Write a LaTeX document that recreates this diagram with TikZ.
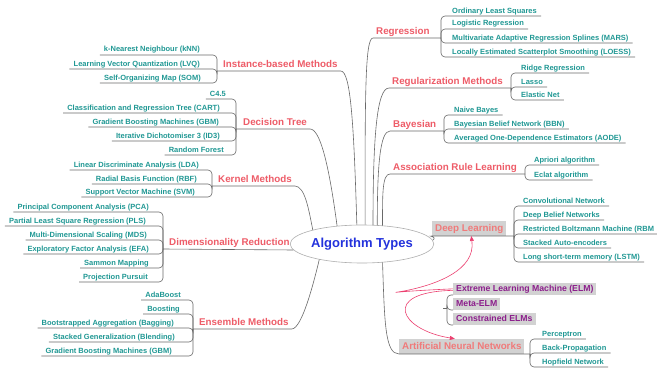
\documentclass[tikz,border=0pt]{standalone}
\usepackage{fontspec}
\setmainfont{Liberation Sans}
\usetikzlibrary{shapes.geometric,arrows.meta}
\definecolor{leafc}{RGB}{32,152,148}
\definecolor{catc}{RGB}{238,92,104}
\definecolor{catlc}{RGB}{240,122,122}
\definecolor{boxg}{RGB}{210,210,210}
\definecolor{elmc}{RGB}{140,30,140}
\definecolor{linec}{RGB}{105,105,105}
\definecolor{bluec}{RGB}{35,50,220}
\definecolor{relc}{RGB}{236,64,112}
\definecolor{ellc}{RGB}{175,175,175}
\begin{document}
\begin{tikzpicture}[x=1pt,y=-1pt,
  leaf/.style={font=\fontsize{7.5}{9}\selectfont\bfseries, text=leafc, inner xsep=4pt, inner ysep=1pt, text height=5.5pt, text depth=1.8pt},
  leafL/.style={leaf, anchor=south east},
  leafR/.style={leaf, anchor=south west},
  cat/.style={font=\fontsize{9.8}{12}\selectfont\bfseries, text=catc, inner xsep=3pt, inner ysep=1pt, text height=7.5pt, text depth=2.2pt, anchor=south west},
  catbox/.style={cat, fill=boxg, text=catlc, inner ysep=2.6pt},
  elmbox/.style={font=\fontsize{8.7}{10}\selectfont\bfseries, text=elmc, fill=boxg, inner xsep=3pt, inner ysep=1.7pt, text height=6.5pt, text depth=2pt, anchor=south west},
  conn/.style={draw=linec, line width=0.6pt},
  br/.style={conn, rounded corners=4pt},
  rel/.style={draw=relc, line width=0.6pt, -{Triangle[length=5pt,width=4pt]}, relc}
]
\useasboundingbox (0,0) rectangle (657,372);
\fill[white] (0,0) rectangle (657,372);

% centre
\node[ellipse, draw=ellc, line width=0.6pt, fill=white, minimum width=122pt, minimum height=38pt, inner sep=0pt,
      font=\fontsize{13}{15}\selectfont\bfseries, text=bluec] (E) at (362,244) {Algorithm Types};

% ---------------- Instance-based Methods
\coordinate (Jinst) at (217,71);
\node[cat] (inst) at (220,71) {Instance-based Methods};
\node[leafL] (knn) at (204,55) {k-Nearest Neighbour (kNN)};
\node[leafL] (lvq) at (204,69) {Learning Vector Quantization (LVQ)};
\node[leafL] (som) at (205,83) {Self-Organizing Map (SOM)};
\draw[br] (Jinst) |- (knn.south west);
\draw[br] (Jinst) |- (lvq.south west);
\draw[br] (Jinst) |- (som.south west);
\draw[conn] (Jinst) -- (inst.south east) .. controls +(10,0) and +(-3,-100) .. (E.105);

% ---------------- Decision Tree
\coordinate (Jdt) at (236,129);
\node[cat] (dt) at (240,129) {Decision Tree};
\node[leafL] (c45) at (230,99) {C4.5};
\node[leafL] (cart) at (224,113) {Classification and Regression Tree (CART)};
\node[leafL] (gbma) at (223,127) {Gradient Boosting Machines (GBM)};
\node[leafL] (id3) at (224,141) {Iterative Dichotomiser 3 (ID3)};
\node[leafL] (rf) at (228,155) {Random Forest};
\foreach \n in {c45,cart,gbma,id3,rf} \draw[br] (Jdt) |- (\n.south west);
\draw[conn] (Jdt) -- (dt.south east) .. controls +(12,0) and +(-6,-45) .. (E.144);

% ---------------- Kernel Methods
\coordinate (Jkm) at (212,186);
\node[cat] (km) at (215,186) {Kernel Methods};
\node[leafL] (lda) at (203,170) {Linear Discriminate Analysis (LDA)};
\node[leafL] (rbf) at (201,184) {Radial Basis Function (RBF)};
\node[leafL] (svm) at (199,197) {Support Vector Machine (SVM)};
\foreach \n in {lda,rbf,svm} \draw[br] (Jkm) |- (\n.south west);
\draw[conn] (Jkm) -- (km.south east) .. controls +(10,0) and +(-4,-20) .. (E.164);

% ---------------- Dimensionality Reduction
\coordinate (Jdim) at (163,249);
\node[cat] (dim) at (166,249) {Dimensionality Reduction};
\node[leafL] (pca) at (153,212) {Principal Component Analysis (PCA)};
\node[leafL] (pls) at (150,226) {Partial Least Square Regression (PLS)};
\node[leafL] (mds) at (151,240) {Multi-Dimensional Scaling (MDS)};
\node[leafL] (efa) at (153,254) {Exploratory Factor Analysis (EFA)};
\node[leafL] (sam) at (153,268) {Sammon Mapping};
\node[leafL] (pp) at (152,282) {Projection Pursuit};
\foreach \n in {pca,pls,mds,efa,sam,pp} \draw[br] (Jdim) |- (\n.south west);
\draw[conn] (Jdim) -- (E.185);

% ---------------- Ensemble Methods
\coordinate (Jens) at (193,329);
\node[cat] (ens) at (196,329) {Ensemble Methods};
\node[leafL] (ada) at (185,300) {AdaBoost};
\node[leafL] (boo) at (184,314) {Boosting};
\node[leafL] (bag) at (178,328) {Bootstrapped Aggregation (Bagging)};
\node[leafL] (sta) at (179,342) {Stacked Generalization (Blending)};
\node[leafL] (gbmb) at (176,356) {Gradient Boosting Machines (GBM)};
\foreach \n in {ada,boo,bag,sta,gbmb} \draw[br] (Jens) |- (\n.south west);
\draw[conn] (Jens) -- (ens.south east) .. controls +(10,0) and +(-6,25) .. (E.200);

% ---------------- Regression
\coordinate (Jreg) at (441,38);
\node[cat] (reg) at (373,38) {Regression};
\node[leafR] (ols) at (448,16) {Ordinary Least Squares};
\node[leafR] (logr) at (448,29) {Logistic Regression};
\node[leafR] (mars) at (448,43) {Multivariate Adaptive Regression Splines (MARS)};
\node[leafR] (loess) at (448,57) {Locally Estimated Scatterplot Smoothing (LOESS)};
\foreach \n in {ols,logr,mars,loess} \draw[br] (Jreg) |- (\n.south east);
\draw[conn] (E.81) .. controls +(0,-130) and +(-8,0) .. (reg.south west) -- (Jreg);

% ---------------- Regularization Methods
\coordinate (Jrgl) at (511,88);
\node[cat] (rgl) at (389,88) {Regularization Methods};
\node[leafR] (ridge) at (517,73) {Ridge Regression};
\node[leafR] (lasso) at (517,87) {Lasso};
\node[leafR] (enet) at (517,100) {Elastic Net};
\foreach \n in {ridge,lasso,enet} \draw[br] (Jrgl) |- (\n.south east);
\draw[conn] (E.60) .. controls +(0,-90) and +(-12,0) .. (rgl.south west) -- (Jrgl);

% ---------------- Bayesian
\coordinate (Jbay) at (444,131);
\node[cat] (bay) at (390,131) {Bayesian};
\node[leafR] (nb) at (450,115) {Naive Bayes};
\node[leafR] (bbn) at (450,129) {Bayesian Belief Network (BBN)};
\node[leafR] (aode) at (450,143) {Averaged One-Dependence Estimators (AODE)};
\foreach \n in {nb,bbn,aode} \draw[br] (Jbay) |- (\n.south east);
\draw[conn] (E.51) .. controls +(0,-60) and +(-10,0) .. (bay.south west) -- (Jbay);

% ---------------- Association Rule Learning
\coordinate (Jasr) at (525,174);
\node[cat] (asr) at (390,174) {Association Rule Learning};
\node[leafR] (apr) at (530,165) {Apriori algorithm};
\node[leafR] (ecl) at (530,180) {Eclat algorithm};
\foreach \n in {apr,ecl} \draw[br] (Jasr) |- (\n.south east);
\draw[conn] (E.42) .. controls +(0,-30) and +(-8,0) .. (asr.south west) -- (Jasr);

% ---------------- Deep Learning
\coordinate (Jdl) at (514,236);
\node[catbox] (dl) at (432,236) {Deep Learning};
\node[leafR] (conv) at (519,206) {Convolutional Network};
\node[leafR] (dbn) at (519,220) {Deep Belief Networks};
\node[leafR] (rbm) at (519,234) {Restricted Boltzmann Machine (RBM};
\node[leafR] (sae) at (519,248) {Stacked Auto-encoders};
\node[leafR] (lstm) at (519,262) {Long short-term memory (LSTM)};
\foreach \n in {conv,dbn,rbm,sae,lstm} \draw[br] (Jdl) |- (\n.south east);
\draw[conn] (E.3) .. controls +(5,-4) and +(-5,0) .. (dl.south west) -- (Jdl);

% ---------------- Artificial Neural Networks
\coordinate (Jann) at (530,354);
\node[catbox] (ann) at (399,354) {Artificial Neural Networks};
\node[leafR] (perc) at (538,339) {Perceptron};
\node[leafR] (bp) at (538,353) {Back-Propagation};
\node[leafR] (hop) at (538,367) {Hopfield Network};
\foreach \n in {perc,bp,hop} \draw[br] (Jann) |- (\n.south east);
\draw[conn] (E.318) .. controls +(2,60) and +(-14,0) .. (ann.south west) -- (Jann);

% ---------------- ELM group
\coordinate (Jelm) at (447,308);
\coordinate (Jelmstub) at (443,308);
\node[elmbox] (elm) at (453,295) {Extreme Learning Machine (ELM)};
\node[elmbox] (meta) at (453,310) {Meta-ELM};
\node[elmbox] (cons) at (453,325) {Constrained ELMs};
\foreach \n in {elm,meta,cons} \draw[br] (Jelm) |- (\n.south west);
\draw[conn] (Jelm) -- (Jelmstub);

% relationship arrows
\draw[rel] (elm.west) .. controls (310,295) and (480,300) .. ([xshift=2pt]dl.south);
\draw[rel] ([yshift=-1.5pt]elm.west) .. controls (380,292) and (400,330) .. ([xshift=-7pt]ann.north);
\end{tikzpicture}
\end{document}
